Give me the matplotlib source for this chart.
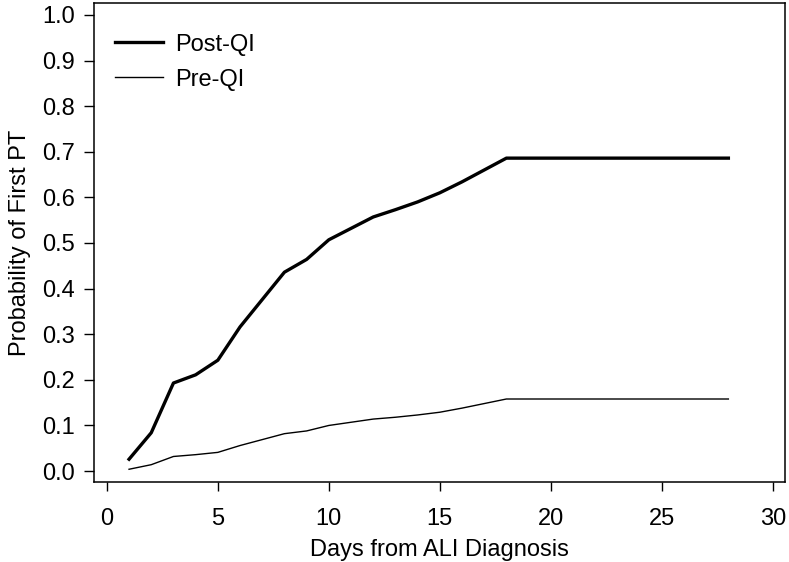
import matplotlib
matplotlib.use('Agg')
import matplotlib.pyplot as plt

plt.rcParams['font.family'] = ['Liberation Sans', 'DejaVu Sans']

days = list(range(1, 29))
post_qi = [0.026, 0.084, 0.193, 0.211, 0.243, 0.316, 0.376, 0.436, 0.464, 0.507,
           0.532, 0.557, 0.573, 0.590, 0.610, 0.634, 0.660, 0.686,
           0.686, 0.686, 0.686, 0.686, 0.686, 0.686, 0.686, 0.686, 0.686, 0.686]
pre_qi = [0.004, 0.014, 0.032, 0.036, 0.041, 0.056, 0.069, 0.082, 0.088, 0.100,
          0.107, 0.114, 0.118, 0.123, 0.129, 0.138, 0.148, 0.158,
          0.158, 0.158, 0.158, 0.158, 0.158, 0.158, 0.158, 0.158, 0.158, 0.158]

x_ticks = [0, 5, 10, 15, 20, 25, 30]
y_ticks = [0.0, 0.1, 0.2, 0.3, 0.4, 0.5, 0.6, 0.7, 0.8, 0.9, 1.0]

fs = 17

fig = plt.figure(figsize=(7.89, 5.62), dpi=100)
ax = fig.add_axes([0.1191, 0.1423, 0.8758, 0.8523])

ax.plot(days, post_qi, color='black', lw=2.4, label='Post-QI')
ax.plot(days, pre_qi, color='black', lw=1.0, label='Pre-QI')

ax.set_xlim(-0.58, 30.55)
ax.set_ylim(-0.024, 1.026)
ax.set_xticks(x_ticks)
ax.set_yticks(y_ticks)
ax.set_yticklabels(['%.1f' % v for v in y_ticks])
ax.tick_params(axis='x', length=6.5, width=1, pad=12.5, labelsize=fs)
ax.tick_params(axis='y', length=7, width=1, pad=6.5, labelsize=fs)
for s in ax.spines.values():
    s.set_linewidth(1.1)

ax.set_xlabel('Days from ALI Diagnosis', fontsize=fs, labelpad=6)
ax.set_ylabel('Probability of First PT', fontsize=fs, labelpad=8.5)

ax.legend(loc='upper left', frameon=False, fontsize=fs, handlelength=2.03,
          handletextpad=0.55, labelspacing=0.55, bbox_to_anchor=(0.030, 0.936),
          borderaxespad=0, borderpad=0)

fig.savefig('out.png', dpi=100)
